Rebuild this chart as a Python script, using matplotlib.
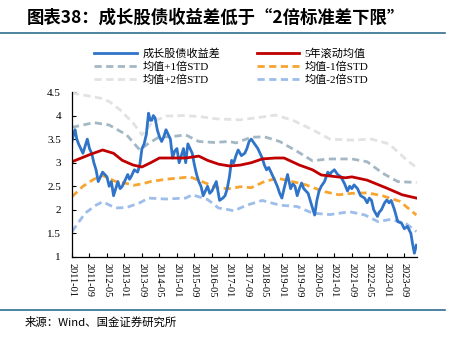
import matplotlib
matplotlib.use("Agg")
import matplotlib.pyplot as plt
from matplotlib.lines import Line2D

plt.rcParams['font.family'] = ['Liberation Serif', 'Noto Sans CJK SC', 'DejaVu Sans']

# months since 2011-01
spread_m = [0, 0.7, 1.4, 2.2, 3, 4, 5, 6, 7, 8, 9, 10, 11, 12, 13, 14, 15, 16, 17, 18, 19, 20, 21, 22, 23, 24,
            25.5, 26.3, 27, 28.5, 30, 31, 32, 33, 34, 35, 35.8, 36.5, 37.2, 38, 39, 40, 41, 42,
            43, 44, 45, 46, 47, 48, 49, 50, 51, 52, 53, 54, 55, 56, 57, 58, 59, 60, 61, 62, 63, 64, 65, 66, 67.5,
            69, 70, 71, 72, 73, 74, 75, 76, 77.5, 79, 80, 81, 82,
            83.5, 85, 86, 87, 88, 89, 90, 91, 92.7, 94, 95, 96, 97, 98.6, 99.3, 100, 101, 102, 103, 104, 105, 106,
            107, 108, 109.6, 111, 112, 113, 114,
            115.5, 117, 118, 118.7, 120, 121.5, 123, 124.7, 126, 127, 128, 129, 130.6, 132, 133.8, 135, 136, 137,
            138, 139.7, 140.5,
            141.5, 143, 144, 145, 146, 147.5, 149, 150.7, 152, 153.4, 155, 155.7, 156.6, 157.5]
spread_v = [3.45, 3.6, 3.7, 3.5, 3.4, 3.3, 3.2, 3.35, 3.5, 3.3, 3.2, 3.0, 2.85, 2.6, 2.7, 2.8, 2.75, 2.7, 2.5,
            2.6, 2.3, 2.45, 2.6, 2.45, 2.5, 2.6, 2.75, 2.65, 2.7, 2.85, 2.8, 2.95, 3.3, 3.4, 3.6, 4.05, 3.9,
            3.9, 4.0, 3.95, 3.7, 3.55, 3.45, 3.55, 3.7, 3.6, 3.5, 3.1, 3.25, 3.3, 3.0, 3.15, 3.3, 3.0, 3.4,
            3.3, 3.2, 2.95, 2.75, 2.6, 2.5, 2.3, 2.4, 2.5, 2.35, 2.4, 2.5, 2.6, 2.2, 2.25, 2.3, 2.45, 2.7,
            3.05, 3.0, 3.15, 3.27, 3.15, 3.2, 3.3, 3.45, 3.5, 3.4, 3.3, 3.2, 3.1, 2.95, 2.85, 2.9, 2.8,
            2.63, 2.49, 2.35, 2.25, 2.45, 2.75, 2.6, 2.45, 2.55, 2.5, 2.3, 2.45, 2.57, 2.45, 2.4, 2.35, 2.1,
            1.89, 2.2, 2.4, 2.5, 2.6, 2.8, 2.75, 2.8, 2.85, 2.75, 2.7, 2.55, 2.4, 2.5, 2.45, 2.53, 2.45, 2.3,
            2.25, 2.15, 2.25, 2.2, 2.0, 1.86, 1.95, 2.0, 2.15, 2.21, 2.15, 2.2, 2.0, 1.75, 1.72, 1.6, 1.65, 1.5,
            1.3, 1.08, 1.25]

mean_m = [0, 8, 14, 19, 23, 28, 32, 36, 40, 45, 52, 58, 62, 67, 72, 77, 82, 87, 93, 97, 104, 110, 114, 125, 128,
          135, 144, 151, 157.5]
mean_v = [3.02, 3.17, 3.27, 3.2, 3.05, 2.95, 2.91, 3.0, 3.1, 3.1, 3.1, 3.14, 3.05, 2.97, 2.93, 2.95, 3.0, 3.08,
          3.1, 3.1, 2.95, 2.85, 2.74, 2.68, 2.7, 2.63, 2.46, 2.32, 2.25]

p1_m = [0, 10, 17, 25, 31, 35, 40, 45, 52, 58, 65, 72, 75, 82, 88, 95, 103, 110, 117, 128, 135, 142, 149, 157.5]
p1_v = [3.75, 3.85, 3.8, 3.59, 3.27, 3.41, 3.55, 3.55, 3.59, 3.45, 3.43, 3.45, 3.42, 3.54, 3.55, 3.45, 3.24,
        3.04, 3.08, 3.08, 3.02, 2.78, 2.6, 2.58]

p2_m = [0, 13, 17, 22, 28, 32, 37, 43, 51, 58, 66, 72, 77, 87, 93, 101, 110, 118, 128, 137, 145, 153, 157.5]
p2_v = [4.48, 4.37, 4.3, 4.12, 3.84, 3.59, 3.87, 3.99, 4.0, 3.98, 3.93, 3.92, 3.91, 3.97, 4.01, 3.9, 3.7, 3.5,
        3.48, 3.5, 3.4, 3.06, 2.9]

m1_m = [0, 5, 10, 14, 20, 25, 28, 32, 36, 43, 50, 54, 61, 67, 72, 77, 82, 88, 94, 99, 107, 115, 122, 128, 135,
        142, 150, 157.5]
m1_v = [2.28, 2.5, 2.65, 2.73, 2.6, 2.56, 2.52, 2.55, 2.6, 2.65, 2.68, 2.7, 2.57, 2.46, 2.45, 2.49, 2.47, 2.6,
        2.67, 2.62, 2.53, 2.39, 2.32, 2.35, 2.36, 2.3, 2.18, 1.89]

m2_m = [0, 6, 11, 14, 20, 25, 31, 35, 43, 52, 55, 62, 67, 72, 74, 80, 87, 95, 103, 110, 118, 127, 134, 140, 146,
        153, 157.5]
m2_v = [1.54, 1.93, 2.1, 2.17, 2.04, 2.05, 2.15, 2.25, 2.23, 2.25, 2.32, 2.22, 2.04, 2.0, 1.98, 2.1, 2.2, 2.1,
        2.07, 1.93, 1.9, 1.96, 1.89, 1.75, 1.8, 1.7, 1.54]

tick_pos = list(range(0, 153, 8))
tick_labels = ['2011-01', '2011-09', '2012-05', '2013-01', '2013-09', '2014-05', '2015-01', '2015-09',
               '2016-05', '2017-01', '2017-09', '2018-05', '2019-01', '2019-09', '2020-05', '2021-01',
               '2021-09', '2022-05', '2023-01', '2023-09']

names = ['成长股债收益差', '5年滚动均值', '均值+1倍STD', '均值-1倍STD', '均值+2倍STD', '均值-2倍STD']
c_spread = '#2F74C8'
c_mean = '#C00000'
c_p1 = '#A3B8C4'
c_m1 = '#F8A530'
c_p2 = '#E2E2E2'
c_m2 = '#9DBDEA'

fig = plt.figure(figsize=(4.52, 3.43), dpi=100)
ax = fig.add_axes([72/452, 1-257/343, (417-72)/452, (257-92)/343])

dash = (0, (2.6, 1.6))
lw_d = 2.0
ax.plot(p2_m, p2_v, color=c_p2, lw=lw_d, ls=dash)
ax.plot(p1_m, p1_v, color=c_p1, lw=lw_d, ls=dash)
ax.plot(m1_m, m1_v, color=c_m1, lw=lw_d, ls=dash)
ax.plot(m2_m, m2_v, color=c_m2, lw=lw_d, ls=dash)
ax.plot(spread_m, spread_v, color=c_spread, lw=2.0)
ax.plot(mean_m, mean_v, color=c_mean, lw=2.0)

ax.set_xlim(0, 157.8)
ax.set_ylim(1, 4.5)
ax.set_yticks([1, 1.5, 2, 2.5, 3, 3.5, 4, 4.5])
ax.set_yticklabels(['1', '1.5', '2', '2.5', '3', '3.5', '4', '4.5'])
ax.set_xticks(tick_pos)
ax.set_xticklabels(tick_labels, rotation=-90)
ax.tick_params(axis='both', direction='in', length=3, width=0.8, labelsize=8, colors='black')
ax.tick_params(axis='x', labelsize=7.5, pad=4)
ax.tick_params(axis='y', pad=8)
for s in ['top', 'right']:
    ax.spines[s].set_visible(False)
for s in ['left', 'bottom']:
    ax.spines[s].set_linewidth(0.9)

handles = [Line2D([], [], color=c_spread, lw=2),
           Line2D([], [], color=c_mean, lw=2),
           Line2D([], [], color=c_p1, lw=2, ls=dash),
           Line2D([], [], color=c_m1, lw=2, ls=dash),
           Line2D([], [], color=c_p2, lw=2, ls=dash),
           Line2D([], [], color=c_m2, lw=2, ls=dash)]
order = [0, 2, 4, 1, 3, 5]
leg = fig.legend([handles[i] for i in order], [names[i] for i in order], ncol=2, loc='upper left',
                 bbox_to_anchor=(90/452, 1-44/343),
                 frameon=False, fontsize=8, handlelength=3.8, handletextpad=0.5,
                 columnspacing=3.3, labelspacing=0.25, borderaxespad=0)
for t in leg.get_texts():
    t.set_family(['Liberation Serif', 'Noto Sans CJK SC'])

fig.text(27/452, 1-18/343, '图表38：成长股债收益差低于“2倍标准差下限”', fontsize=12.5, fontweight='bold',
         fontstyle='italic', family=['Noto Sans CJK SC', 'DejaVu Sans'], va='center', ha='left')
fig.add_artist(Line2D([0, 0.985], [1-32.5/343, 1-32.5/343], color='#2E6E90', lw=1.2, transform=fig.transFigure))
fig.add_artist(Line2D([0, 0.985], [1-310/343, 1-310/343], color='#2E6E90', lw=1.2, transform=fig.transFigure))
fig.text(25/452, 1-322/343, '来源：Wind、国金证券研究所', fontsize=8.2,
         family=['Noto Sans CJK SC', 'DejaVu Sans'], va='center', ha='left')

fig.savefig('out.png', dpi=100)
